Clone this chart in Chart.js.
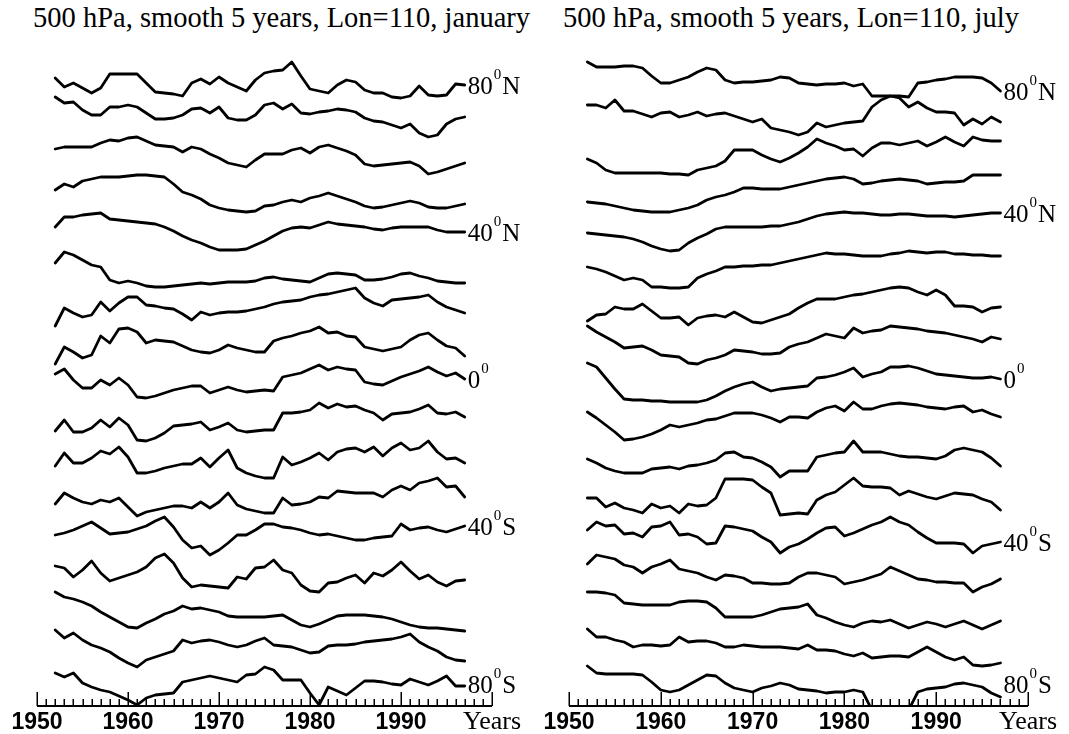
<!DOCTYPE html>
<html><head><meta charset="utf-8">
<script src="https://cdn.jsdelivr.net/npm/chart.js@4.4.1/dist/chart.umd.min.js"></script>
<style>
html,body{margin:0;padding:0;background:#fff;}
#wrap{position:relative;width:1069px;height:734px;overflow:hidden;background:#fff;}
canvas{position:absolute;top:0;}
.title{position:absolute;top:4px;font-family:'Liberation Serif','Times New Roman',serif;font-size:28.5px;line-height:1;white-space:nowrap;color:#000;}
</style></head><body>
<div id="wrap">
<div class="title" style="left:33px">500 hPa, smooth 5 years, Lon=110, january</div>
<div class="title" style="left:563px">500 hPa, smooth 5 years, Lon=110, july</div>
<canvas id="c1" width="534" height="734" style="left:0"></canvas>
<canvas id="c2" width="535" height="734" style="left:534px"></canvas>
</div>
<script>
// ---- categories ----
const years = [1952,1953,1954,1955,1956,1957,1958,1959,1960,1961,1962,1963,1964,1965,1966,1967,1968,1969,1970,1971,1972,1973,1974,1975,1976,1977,1978,1979,1980,1981,1982,1983,1984,1985,1986,1987,1988,1989,1990,1991,1992,1993,1994,1995,1996,1997];
const latitudes = ['80N','70N','60N','50N','40N','30N','20N','10N','0','10S','20S','30S','40S','50S','60S','70S','80S'];
const tickYears = [1950,1960,1970,1980,1990,2000];
const tickLabels = ['1950','1960','1970','1980','1990','Years'];
const labelIndex = [0,4,8,12,16];
const labelMain = ['80','40','0','40','80'];
const labelHemi = ['N','N','','S','S'];
// ---- series: trace level of each latitude curve (downward units, offset stacked) ----
// January
const j80N = [78,87,83,88,93,88,74,74,74,74,83,92,93,94,96,83,79,84,77,83,87,91,80,73,71,70,62,76,89,91,93,85,80,82,90,93,93,97,98,96,86,95,96,95,84,85];
const j70N = [97,103,102,110,115,115,107,107,105,107,113,119,119,118,115,109,108,113,107,118,120,120,115,105,103,109,104,113,114,112,111,109,110,112,118,121,122,125,128,124,133,137,135,124,119,117];
const j60N = [149,147,147,147,147,143,140,141,138,137,141,145,146,147,152,147,149,154,158,163,165,167,160,154,154,154,150,148,153,147,145,148,151,155,164,166,165,164,163,162,166,174,172,169,166,163];
const j50N = [190,184,187,181,179,177,177,177,176,175,175,176,177,184,192,195,199,205,208,210,211,212,211,206,205,202,200,202,198,196,193,196,199,202,206,208,207,205,203,201,203,207,208,208,206,204];
const j40N = [227,217,217,215,214,213,219,220,221,222,223,224,227,231,236,240,243,247,250,250,250,249,245,241,236,231,228,227,228,225,222,224,225,226,227,229,230,228,227,227,227,227,230,232,232,232];
const j30N = [263,252,255,260,265,267,280,283,281,283,286,287,287,286,285,284,283,284,283,282,282,282,281,278,277,279,280,281,282,278,274,273,274,275,280,280,279,277,274,273,276,278,281,282,283,283];
const j20N = [326,308,313,317,315,302,311,303,297,297,305,306,308,309,314,320,312,315,313,312,312,311,309,307,304,302,301,300,297,295,294,292,290,288,298,303,306,300,299,298,297,295,302,307,310,313];
const j10N = [364,347,352,358,355,336,343,329,328,332,343,340,341,342,346,350,352,353,350,345,348,350,352,352,341,338,336,333,331,327,333,332,336,337,347,349,351,349,347,340,335,333,340,346,348,356];
const j0   = [374,369,380,388,388,380,385,378,385,397,398,396,393,390,388,386,386,393,390,387,390,392,391,390,391,377,375,373,369,365,370,367,369,370,382,384,385,381,377,374,371,367,372,376,373,379];
const j10S = [431,420,432,432,428,420,427,418,425,440,441,438,433,426,425,424,422,430,427,423,430,432,431,430,430,413,413,412,410,403,408,404,407,406,410,413,420,414,413,412,409,405,413,414,412,417];
const j20S = [466,453,463,463,458,451,454,447,457,473,473,471,468,466,464,464,458,467,458,450,468,473,476,478,478,457,465,462,458,453,460,452,449,448,452,447,456,448,443,450,448,441,452,459,458,463];
const j30S = [504,493,498,502,504,500,502,498,507,516,512,510,508,506,506,508,502,508,502,493,505,509,511,513,513,498,505,504,502,497,498,491,492,493,493,493,497,490,486,490,483,481,478,487,486,497];
const j40S = [535,533,530,526,522,528,534,533,532,529,526,521,517,527,540,548,546,555,550,543,535,535,530,524,524,527,528,530,533,535,534,536,538,540,540,538,537,536,524,530,528,527,530,532,529,526];
const j50S = [566,568,577,570,561,573,581,578,575,572,567,558,554,563,578,587,585,586,587,588,577,579,568,567,560,570,573,585,591,592,583,582,578,575,583,573,576,570,562,571,579,575,582,586,581,580];
const j60S = [592,597,599,602,606,612,617,622,627,628,623,619,614,611,606,609,608,610,612,616,617,617,617,617,616,615,620,625,627,624,620,616,615,615,615,616,617,619,622,625,627,628,628,629,630,631];
const j70S = [630,638,633,640,645,648,652,658,663,667,660,657,654,651,640,643,641,640,642,645,647,645,641,638,645,646,647,650,653,652,646,645,645,644,642,641,640,639,637,634,642,647,651,657,660,661];
const j80S = [673,677,673,683,687,690,692,696,700,705,698,695,694,693,682,680,678,676,678,680,682,675,674,667,670,680,680,680,693,705,687,691,695,688,681,681,682,684,685,679,682,685,681,676,686,686];
// July
const u80N = [62,67,67,67,66,66,68,76,83,83,80,77,72,68,70,80,83,82,82,81,80,77,78,83,84,85,84,84,83,86,84,96,96,96,96,97,83,82,80,79,77,77,77,78,83,91];
const u70N = [105,105,108,100,111,111,114,117,113,112,117,115,112,116,114,113,116,119,122,119,128,130,132,135,132,123,127,125,123,122,121,107,100,96,98,107,102,108,112,112,113,125,119,124,117,122];
const u60N = [159,163,170,173,173,173,173,173,173,174,174,175,170,168,166,161,150,150,150,155,159,162,158,153,147,139,143,146,150,149,156,148,143,143,145,143,141,146,142,137,142,146,137,140,141,141];
const u50N = [202,203,204,206,208,210,211,212,212,212,210,208,205,200,197,195,192,188,188,189,189,189,187,185,183,181,179,178,177,179,184,183,181,180,179,180,181,184,183,182,182,181,175,175,175,175];
const u40N = [233,234,235,236,237,239,242,246,249,251,250,243,238,234,229,227,227,227,227,227,226,226,224,222,219,216,214,213,212,213,213,214,215,215,214,214,215,216,216,216,217,216,215,214,213,213];
const u30N = [267,269,272,276,280,278,280,287,287,288,288,287,278,274,271,267,267,266,266,265,265,263,261,259,257,255,253,254,254,255,256,256,256,254,253,251,252,253,252,252,254,254,255,255,256,256];
const u20N = [321,315,314,307,309,309,304,311,318,318,317,325,318,316,315,317,312,317,322,323,320,317,314,308,303,299,299,299,297,295,294,292,290,288,287,288,292,295,290,295,306,306,307,312,308,307];
const u10N = [326,332,337,342,348,347,346,350,355,356,357,363,364,360,358,355,350,351,352,354,354,353,347,344,342,338,334,336,338,328,333,331,330,326,327,328,329,331,332,333,335,337,339,342,337,339];
const u0   = [363,367,378,389,399,400,400,401,401,402,402,402,402,400,396,391,387,384,382,387,391,389,388,387,386,378,377,375,372,368,377,374,372,367,367,366,368,371,374,375,376,377,378,378,377,379];
const u10S = [412,418,425,432,440,439,437,434,430,425,427,425,423,420,419,416,413,413,413,415,418,422,417,417,418,412,408,406,411,402,409,409,406,404,403,404,405,407,408,409,407,406,412,410,414,417];
const u20S = [459,463,468,471,473,473,473,469,468,467,469,466,465,463,460,453,452,457,458,462,467,477,471,471,471,457,455,453,452,441,452,452,452,454,456,457,457,458,459,456,450,448,450,452,458,466];
const u30S = [498,498,507,503,508,510,513,504,508,506,513,504,506,505,498,479,479,479,480,487,493,515,514,513,514,500,495,492,485,478,486,487,487,488,495,491,494,497,499,496,493,494,495,499,502,510];
const u40S = [530,522,526,525,534,533,537,527,526,522,535,534,537,544,543,526,527,529,531,537,542,553,547,544,539,533,528,527,536,533,529,525,522,517,522,525,532,538,543,543,543,544,553,546,544,542];
const u50S = [564,555,557,559,565,567,573,567,564,560,569,571,573,577,580,575,576,578,583,583,584,584,583,577,573,573,575,577,584,582,580,577,574,567,571,575,579,580,582,582,583,583,592,587,584,579];
const u60S = [592,592,593,595,603,604,605,605,605,605,602,601,601,602,608,617,617,617,617,615,612,609,608,607,604,615,618,622,625,627,623,621,622,620,624,628,625,622,624,627,624,621,625,629,625,621];
const u70S = [629,637,637,640,642,647,645,645,646,645,637,642,641,641,643,647,647,645,646,647,647,647,648,649,645,650,650,651,654,656,653,658,657,656,656,657,652,647,652,657,660,657,665,666,665,663];
const u80S = [666,673,674,674,674,674,675,682,690,692,690,685,680,675,676,683,688,690,692,688,686,683,685,689,690,691,693,692,692,690,692,710,714,716,714,710,692,689,688,687,684,683,685,687,693,697];

const janSeries = [j80N,j70N,j60N,j50N,j40N,j30N,j20N,j10N,j0,j10S,j20S,j30S,j40S,j50S,j60S,j70S,j80S];
const julSeries = [u80N,u70N,u60N,u50N,u40N,u30N,u20N,u10N,u0,u10S,u20S,u30S,u40S,u50S,u60S,u70S,u80S];

const LEVEL_TOP = 40, LEVEL_AXIS = 706, LABEL_FLOOR = 684;
const SERIF = "'Liberation Serif', 'Times New Roman', serif";

function makeChart(id, series, padL, padR) {
  const axisPlugin = {
    id: 'yearAxis',
    afterDraw(chart) {
      const {ctx, chartArea, scales: {x}} = chart;
      const yb = chartArea.bottom;
      ctx.save();
      ctx.strokeStyle = '#000';
      ctx.lineWidth = 2;
      ctx.beginPath();
      ctx.moveTo(x.getPixelForValue(1950), yb);
      ctx.lineTo(x.getPixelForValue(2000), yb);
      ctx.stroke();
      ctx.lineWidth = 1.5;
      ctx.beginPath();
      for (let yr = 1950; yr <= 2000; yr++) {
        const px = Math.round(x.getPixelForValue(yr)) + 0.25;
        const len = (yr % 10 === 0) ? 14 : 7;
        ctx.moveTo(px, yb);
        ctx.lineTo(px, yb - len);
      }
      ctx.stroke();
      ctx.restore();
    }
  };
  const latPlugin = {
    id: 'latLabels',
    afterDatasetsDraw(chart) {
      const {ctx, scales: {x, y}} = chart;
      ctx.save();
      ctx.fillStyle = '#000';
      ctx.textBaseline = 'alphabetic';
      ctx.textAlign = 'left';
      labelIndex.forEach((k, n) => {
        const vals = series[k];
        const level = Math.min(vals[vals.length - 1], LABEL_FLOOR);
        let px = x.getPixelForValue(years[years.length - 1]) + 3;
        const py = y.getPixelForValue(level);
        ctx.font = "25px " + SERIF;
        ctx.fillText(labelMain[n], px, py + 8.5);
        px += ctx.measureText(labelMain[n]).width + 1;
        ctx.font = "15px " + SERIF;
        ctx.fillText('0', px, py - 6);
        px += ctx.measureText('0').width + 1;
        if (labelHemi[n]) {
          ctx.font = "25px " + SERIF;
          ctx.fillText(labelHemi[n], px, py + 8.5);
        }
      });
      ctx.restore();
    }
  };
  return new Chart(document.getElementById(id), {
    type: 'line',
    data: {
      datasets: series.map((vals, k) => ({
        label: latitudes[k],
        data: vals.map((v, i) => ({x: years[i], y: v})),
        borderColor: '#000',
        borderWidth: 2.8,
        pointRadius: 0,
        tension: 0,
        fill: false,
        borderJoinStyle: 'round',
        borderCapStyle: 'round'
      }))
    },
    options: {
      responsive: false,
      animation: false,
      devicePixelRatio: 1,
      events: [],
      layout: {padding: {left: padL, right: padR, top: LEVEL_TOP, bottom: 0}},
      plugins: {legend: {display: false}, tooltip: {enabled: false}, title: {display: false}},
      scales: {
        x: {
          type: 'linear', min: 1950, max: 2000,
          afterBuildTicks: (s) => { s.ticks = tickYears.map(v => ({value: v})); },
          ticks: {
            autoSkip: false, maxRotation: 0, minRotation: 0, padding: 0, color: '#000',
            callback: (v, i) => tickLabels[i],
            font: (c) => (c.index === tickLabels.length - 1)
              ? {family: SERIF, size: 26, weight: 'normal', lineHeight: '23px'}
              : {family: "'Liberation Sans', Arial, sans-serif", size: 23, weight: 'bold', lineHeight: '23px'}
          },
          grid: {display: false, drawTicks: true, tickLength: 5},
          border: {display: false}
        },
        y: {type: 'linear', reverse: true, min: LEVEL_TOP, max: LEVEL_AXIS, display: false}
      }
    },
    plugins: [axisPlugin, latPlugin]
  });
}

makeChart('c1', janSeries, 37, 42);
makeChart('c2', julSeries, 35, 41);
</script>
</body></html>
